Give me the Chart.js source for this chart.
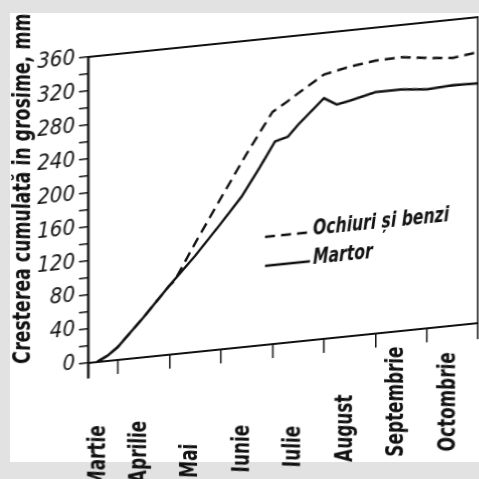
<!DOCTYPE html>
<html>
<head>
<meta charset="utf-8">
<script src="https://cdn.jsdelivr.net/npm/chart.js@4.4.1/dist/chart.umd.min.js"></script>
<style>
html, body { margin: 0; padding: 0; width: 479px; height: 479px; overflow: hidden; background: #e2e2e2; }
#paper { position: absolute; left: 10px; top: 13px; width: 469px; height: 449px; background: #fff; }
#chart { position: absolute; left: 0; top: 0; transform-origin: 88px 363px; transform: skewY(-5.84deg); }
</style>
</head>
<body>
<div id="paper"></div>
<canvas id="chart" width="479" height="540"></canvas>
<script>
const months = ['Martie', 'Aprilie', 'Mai', 'Iunie', 'Iulie', 'August', 'Septembrie', 'Octombrie']
const yLabels = [0, 40, 80, 120, 160, 200, 240, 280, 320, 360]

// timp in luni de la 1 martie, valori in mm
const martorT = [0.6, 0.8, 1.0, 1.25, 1.5, 2.0, 2.5, 3.0, 3.4, 3.75, 4.05, 4.3, 4.5, 5.0, 5.25, 5.5, 6.0, 6.5, 7.0, 7.5, 8.0]
const martorV = [0, 6, 15, 31, 47, 81, 113, 148, 177, 209, 238, 242, 255, 283, 274, 277, 284, 284, 281, 283, 282]
const ochiuriT = [0.6, 0.8, 1.0, 1.25, 1.5, 2.0, 2.1, 2.5, 3.0, 3.5, 4.0, 4.3, 4.5, 5.0, 5.5, 6.0, 6.5, 7.0, 7.5, 8.0]
const ochiuriV = [0, 6, 15, 31, 47, 81, 86, 128, 178, 227, 273, 284, 292, 311, 317, 321, 322, 318, 315, 319]

const FONT = "'DejaVu Sans Condensed', 'DejaVu Sans', sans-serif"
const INK = '#111'

// text ingust, ca in desen (scris tehnic)
function narrowText(ctx, text, x, y, angle, len, align) {
    ctx.save()
    ctx.translate(x, y)
    ctx.rotate(angle)
    ctx.scale(len / ctx.measureText(text).width, 1)
    ctx.textAlign = align
    ctx.fillText(text, 0, 0)
    ctx.restore()
}

const extraText = {
    id: 'extraText',
    afterDraw(chart) {
        const { ctx, chartArea: { left }, scales: { x } } = chart

        ctx.save()
        ctx.fillStyle = INK
        ctx.textBaseline = 'middle'

        ctx.font = 'italic bold 25px ' + FONT
        narrowText(ctx, 'Cresterea cumulată in grosime, mm', 23, 182, -Math.PI / 2, 350, 'center')

        ctx.font = 'italic bold 24px ' + FONT
        const k = 110 / ctx.measureText('Septembrie').width
        months.forEach((m, i) => {
            const px = Math.max(x.getPixelForValue(i + 0.5) - 4, left + 11)
            narrowText(ctx, m, px, 488, -Math.PI / 2, ctx.measureText(m).width * k, 'left')
        })

        // legenda
        const lx = left + 177
        ctx.strokeStyle = INK
        ctx.lineWidth = 2.5
        ctx.setLineDash([10, 6])
        ctx.beginPath(); ctx.moveTo(lx, 255); ctx.lineTo(lx + 45, 255); ctx.stroke()
        ctx.setLineDash([])
        ctx.beginPath(); ctx.moveTo(lx, 284); ctx.lineTo(lx + 45, 284); ctx.stroke()
        ctx.font = 'italic bold 22px ' + FONT
        ctx.textBaseline = 'alphabetic'
        const kl = 136 / ctx.measureText('Ochiuri și benzi').width
        narrowText(ctx, 'Ochiuri și benzi', lx + 48, 258, 0, 136, 'left')
        narrowText(ctx, 'Martor', lx + 48, 287, 0, ctx.measureText('Martor').width * kl, 'left')
        ctx.restore()
    }
}

const ctx = document.getElementById('chart')

new Chart(ctx, {
    type: 'line',
    data: {
        datasets: [{
            label: 'Ochiuri și benzi',
            data: ochiuriT.map((t, i) => ({ x: t, y: ochiuriV[i] })),
            borderColor: INK,
            borderWidth: 2.5,
            borderDash: [10, 6],
            pointRadius: 0,
            tension: 0
        }, {
            label: 'Martor',
            data: martorT.map((t, i) => ({ x: t, y: martorV[i] })),
            borderColor: INK,
            borderWidth: 2.5,
            pointRadius: 0,
            tension: 0
        }]
    },
    plugins: [extraText],
    options: {
        responsive: false,
        animation: false,
        devicePixelRatio: 1,
        layout: { padding: { left: 0, top: 0, right: 0, bottom: 162 } },
        scales: {
            x: {
                type: 'linear',
                min: 0.42,
                max: 8,
                position: { y: 0 },
                afterBuildTicks: s => { s.ticks = [1, 2, 3, 4, 5, 6, 7, 8].map(v => ({ value: v })) },
                ticks: { display: false },
                grid: { drawOnChartArea: false, drawTicks: true, tickLength: 13, color: INK, lineWidth: 1.5 },
                border: { display: true, color: INK, width: 2 }
            },
            xTop: {
                type: 'linear',
                min: 0.42,
                max: 8,
                position: 'top',
                ticks: { display: false },
                grid: { display: false },
                border: { display: true, color: INK, width: 2 },
                afterFit: s => { s.height = 57 }
            },
            y: {
                min: -18,
                max: 360,
                position: 'left',
                afterBuildTicks: s => {
                    s.ticks = []
                    for (let v = 0; v <= 360; v += 20) s.ticks.push({ value: v })
                },
                ticks: {
                    autoSkip: false,
                    color: INK,
                    padding: 4,
                    font: { family: FONT, size: 22, style: 'italic' },
                    callback: v => yLabels.includes(v) ? String(v) : ''
                },
                grid: { drawOnChartArea: false, drawTicks: true, tickLength: 9, color: INK, lineWidth: 1.5 },
                border: { display: true, color: INK, width: 2.5 },
                afterFit: s => { s.width = 88 }
            },
            yRight: {
                min: -18,
                max: 360,
                position: 'right',
                ticks: { display: false },
                grid: { display: false },
                border: { display: true, color: INK, width: 2.5 },
                afterFit: s => { s.width = 0.5 }
            }
        },
        plugins: {
            legend: { display: false },
            tooltip: { enabled: false }
        }
    }
})
</script>
</body>
</html>
